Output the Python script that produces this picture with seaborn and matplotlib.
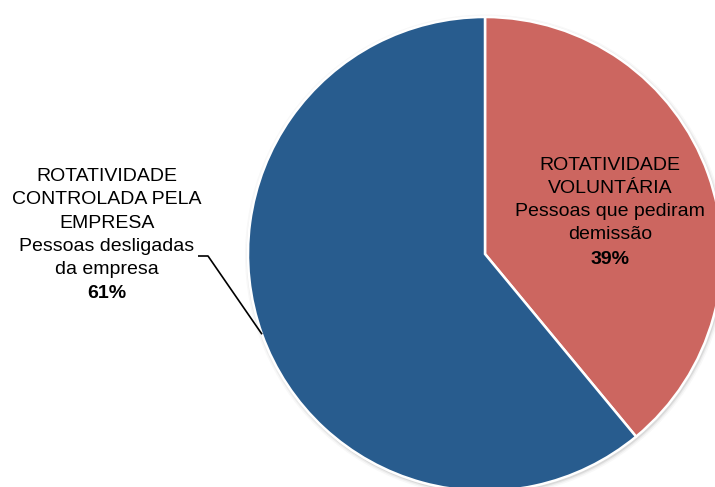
import numpy as np
import matplotlib
matplotlib.use("Agg")
import matplotlib.pyplot as plt
import seaborn as sns
from matplotlib.patches import Circle

# Turnover split
categories = ["ROTATIVIDADE\nVOLUNTÁRIA", "ROTATIVIDADE\nCONTROLADA PELA\nEMPRESA"]
descriptions = ["Pessoas que pediram\ndemissão", "Pessoas desligadas\nda empresa"]
shares = [39, 61]
colors = ["#CC6660", "#285C8E"]

sns.set_theme(style="white")
plt.rcParams["font.family"] = ["Liberation Sans", "DejaVu Sans"]

W, H = 715, 487
fig = plt.figure(figsize=(W / 100, H / 100), dpi=100)
ax = fig.add_axes([0, 0, 1, 1])

cx, cy, r = 485, 233, 237

# soft shadow rim
for k, a in [(4, 0.06), (2.5, 0.10), (1.2, 0.18)]:
    ax.add_patch(Circle((cx + 1, cy - 1.5), r + k, color="#888888", alpha=a, lw=0, zorder=0))

wedges, _ = ax.pie(shares, colors=colors, startangle=90, counterclock=False,
                   center=(cx, cy), radius=r, frame=True,
                   wedgeprops=dict(edgecolor="white", linewidth=1.8))
for w in wedges:
    w.set_zorder(2)
ax.set_xlim(0, W)
ax.set_ylim(0, H)
ax.set_aspect("equal")
ax.axis("off")

fs = 14
ls = 1.47
# voluntary share, inside its slice
ax.text(610, 287, f"{categories[0]}\n{descriptions[0]}", ha="center", va="center",
        fontsize=fs, linespacing=ls, color="black", zorder=5)
ax.text(610, 227, f"{shares[0]}%", ha="center", va="center", fontsize=fs,
        fontweight="bold", color="black", zorder=5)

# company-driven share, outside with leader line
ax.text(107, 264, f"{categories[1]}\n{descriptions[1]}", ha="center", va="center",
        fontsize=fs, linespacing=ls, color="black", zorder=5)
ax.text(107, 194, f"{shares[1]}%", ha="center", va="center", fontsize=fs,
        fontweight="bold", color="black", zorder=5)

w = wedges[1]
mid = np.deg2rad((w.theta1 + w.theta2) / 2)
ex, ey = cx + r * np.cos(mid), cy + r * np.sin(mid)
ax.plot([198, 208, ex], [231, 231, ey], color="black", lw=1.2, zorder=4,
        solid_capstyle="butt")

fig.savefig("out.png", dpi=100, facecolor="white")
